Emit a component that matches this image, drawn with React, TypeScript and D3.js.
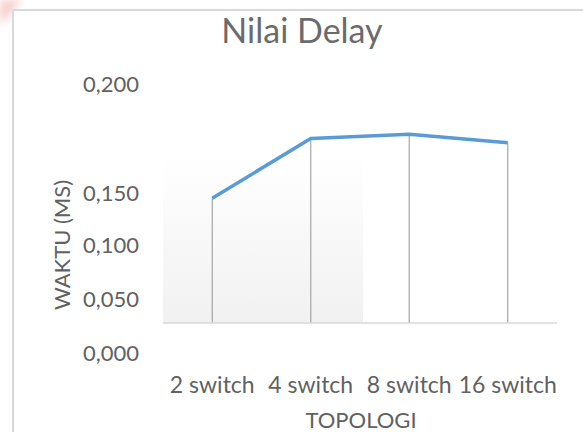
import React, { useEffect, useRef } from 'react';
import * as d3 from 'd3';

const categories = ['2 switch', '4 switch', '8 switch', '16 switch'];
const delayValues = [0.145, 0.175, 0.177, 0.173];
const tickValues = [0, 0.05, 0.1, 0.15, 0.2];
const tickLabels = ['0,000', '0,050', '0,100', '0,150', '0,200'];
// vertical position of each tick label (ticks are not evenly spaced)
const tickPositions = [353, 299, 245, 193, 84];

const FONT = 'Lato, "Open Sans", sans-serif';
const TEXT = '#616161';

const App: React.FC = () => {
  const svgRef = useRef<SVGSVGElement>(null);

  useEffect(() => {
    if (!svgRef.current) return;
    const svg = d3.select(svgRef.current);
    svg.selectAll('*').remove();

    const width = 583;
    const height = 432;
    const plot = { left: 163, right: 557, bottom: 323 };

    const defs = svg.append('defs');
    const grad = defs.append('linearGradient')
      .attr('id', 'plotShade')
      .attr('x1', 0).attr('y1', 0).attr('x2', 0).attr('y2', 1);
    grad.append('stop').attr('offset', '0%').attr('stop-color', '#ffffff');
    grad.append('stop').attr('offset', '100%').attr('stop-color', '#f1f1f1');
    defs.append('filter').attr('id', 'blur')
      .append('feGaussianBlur').attr('stdDeviation', 4);

    svg.append('rect').attr('width', width).attr('height', height).attr('fill', '#fff');

    // faint pink mark in the corner
    svg.append('path')
      .attr('d', 'M0,0 L22,0 L0,26 Z')
      .attr('fill', '#f3b8b8')
      .attr('opacity', 0.7)
      .attr('filter', 'url(#blur)');

    // chart border
    svg.append('rect')
      .attr('x', 13).attr('y', 10)
      .attr('width', 620).attr('height', 460)
      .attr('fill', '#fff')
      .attr('stroke', '#d9d9d9')
      .attr('stroke-width', 2);

    const x = d3.scaleBand<string>()
      .domain(categories)
      .range([plot.left, plot.right])
      .padding(0);
    const cx = (c: string) => (x(c) as number) + x.bandwidth() / 2;

    const y = d3.scaleLinear()
      .domain(tickValues)
      .range(tickPositions);

    // shaded part of the plot area
    svg.append('rect')
      .attr('x', plot.left)
      .attr('y', 157)
      .attr('width', 200)
      .attr('height', plot.bottom - 157)
      .attr('fill', 'url(#plotShade)');

    // title
    svg.append('text')
      .attr('x', 302).attr('y', 43)
      .attr('text-anchor', 'middle')
      .attr('font-family', FONT)
      .attr('font-size', 34)
      .attr('fill', '#6b6b6b')
      .text('Nilai Delay');

    // y tick labels
    svg.append('g')
      .selectAll('text')
      .data(tickValues)
      .join('text')
      .attr('x', 139)
      .attr('y', d => y(d))
      .attr('dy', '0.35em')
      .attr('text-anchor', 'end')
      .attr('font-family', FONT)
      .attr('font-size', 22)
      .attr('fill', TEXT)
      .text((d, i) => tickLabels[i]);

    // y axis title
    svg.append('text')
      .attr('transform', 'translate(70,245) rotate(-90)')
      .attr('text-anchor', 'middle')
      .attr('font-family', FONT)
      .attr('font-size', 22)
      .attr('fill', TEXT)
      .text('WAKTU (MS)');

    // drop lines
    svg.append('g')
      .selectAll('line')
      .data(categories)
      .join('line')
      .attr('x1', d => cx(d))
      .attr('x2', d => cx(d))
      .attr('y1', (d, i) => y(delayValues[i]))
      .attr('y2', plot.bottom)
      .attr('stroke', '#a5a5a5')
      .attr('stroke-width', 1.2);

    // x axis line
    svg.append('line')
      .attr('x1', plot.left).attr('x2', plot.right)
      .attr('y1', plot.bottom).attr('y2', plot.bottom)
      .attr('stroke', '#d9d9d9')
      .attr('stroke-width', 1.5);

    // series line
    const line = d3.line<number>()
      .x((d, i) => cx(categories[i]))
      .y(d => y(d));
    svg.append('path')
      .datum(delayValues)
      .attr('fill', 'none')
      .attr('stroke', '#5b9bd5')
      .attr('stroke-width', 3.5)
      .attr('stroke-linejoin', 'round')
      .attr('d', line);

    // x labels
    svg.append('g')
      .selectAll('text')
      .data(categories)
      .join('text')
      .attr('x', d => cx(d))
      .attr('y', 393)
      .attr('text-anchor', 'middle')
      .attr('font-family', FONT)
      .attr('font-size', 23)
      .attr('fill', TEXT)
      .text(d => d);

    // x axis title
    svg.append('text')
      .attr('x', 361).attr('y', 428)
      .attr('text-anchor', 'middle')
      .attr('font-family', FONT)
      .attr('font-size', 22)
      .attr('fill', TEXT)
      .text('TOPOLOGI');
  }, []);

  return (
    <svg
      ref={svgRef}
      width={583}
      height={432}
      style={{ position: 'fixed', left: 0, top: 0, display: 'block' }}
    />
  );
};

export default App;
